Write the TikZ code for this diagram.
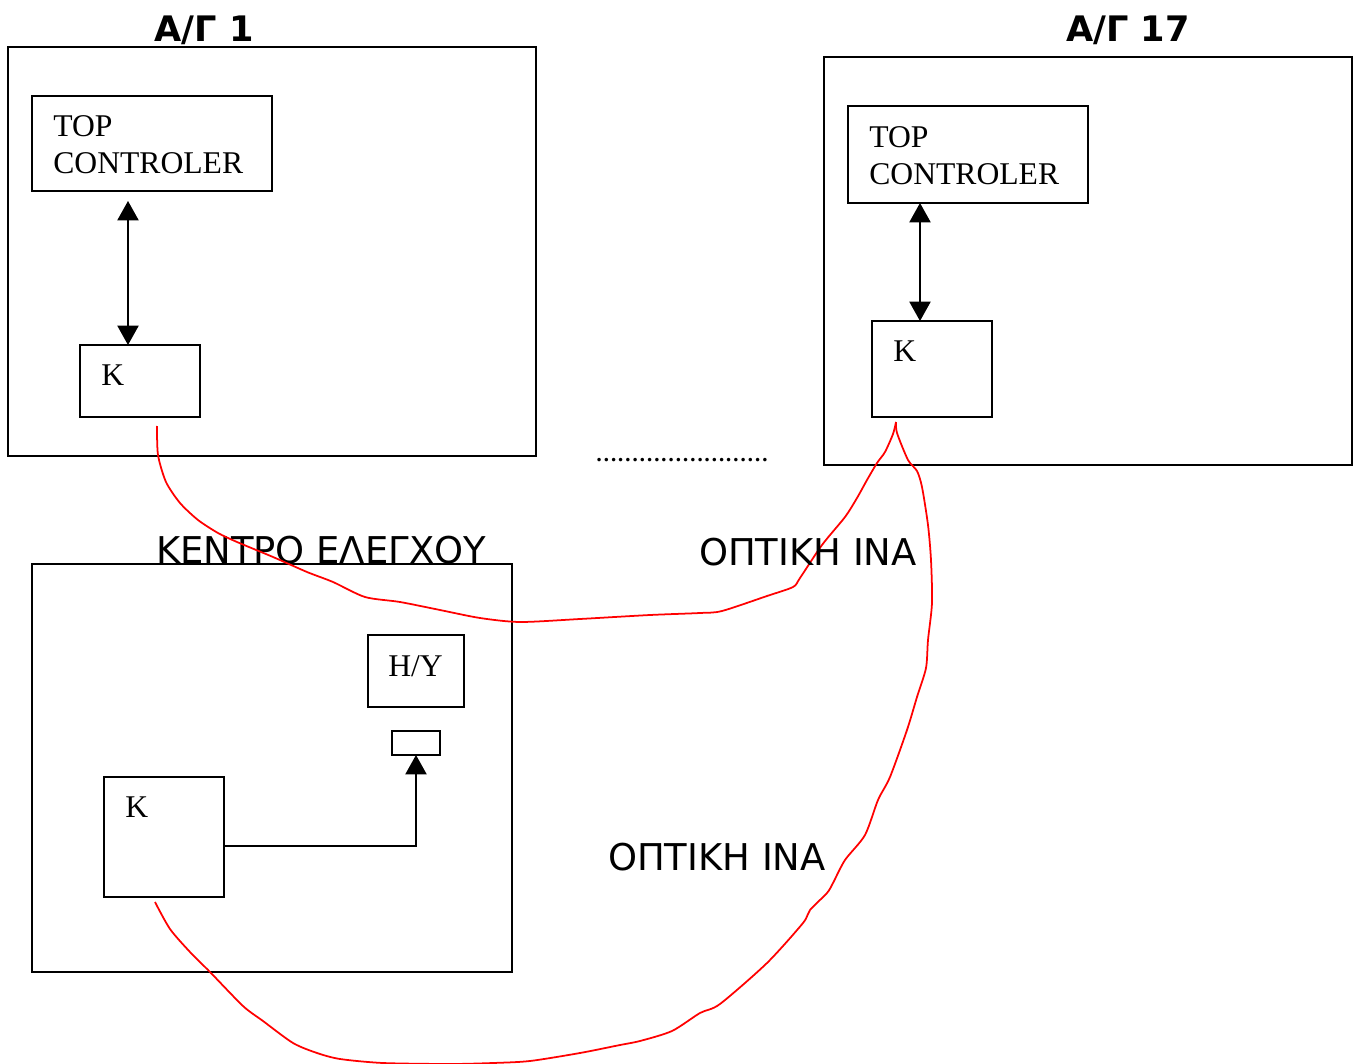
\documentclass[tikz,border=0pt]{standalone}
\usepackage{fontspec}
\setmainfont{Liberation Serif}
\newfontfamily\greekfont{DejaVu Sans}
\usetikzlibrary{positioning, arrows.meta, calc}
\definecolor{fibreRed}{RGB}{255, 0, 0}

\begin{document}
\begin{tikzpicture}[x=0.02cm, y=-0.02cm,
          box/.style={draw, line width=1pt, inner sep=0pt, outer sep=0pt},
          txt/.style={font=\fontsize{18}{21}\selectfont, inner sep=0pt, align=left},
          grk/.style={font=\greekfont\fontsize{21}{25}\selectfont, inner sep=0pt, anchor=base},
          dblarr/.style={{Triangle[length=11pt, width=12pt]}-{Triangle[length=11pt, width=12pt]}, line width=1pt},
          arr/.style={-{Triangle[length=11pt, width=12pt]}, line width=1pt},
          fibre/.style={fibreRed, line width=1pt}]
        \useasboundingbox (0,0) rectangle (1353,1064);
        % station 1
        \node[box, minimum width=10.56cm, minimum height=8.18cm] (agA) at (272,251.5) {};
        \node[box, minimum width=4.8cm, minimum height=1.9cm] (topA) at (152,143.5) {};
        \node[box, minimum width=2.4cm, minimum height=1.44cm] (kA) at (140,381) {};
        \node[txt, anchor=north west] (topAtxt) at (53,115) {TOP\\CONTROLER};
        \node[txt, anchor=base west] (kAtxt) at (101,385) {Κ};
        \node[grk, font=\greekfont\bfseries\fontsize{20}{24}\selectfont] (agAtitle) at (204,42) {Α/Γ 1};
        \draw[dblarr] (kA.north -| 128,0) -- ([yshift=-0.2cm]topA.south -| 128,0);
        % station 17
        \node[box, minimum width=10.56cm, minimum height=8.16cm] (agB) at (1088,261) {};
        \node[box, minimum width=4.8cm, minimum height=1.94cm] (topB) at (968,154.5) {};
        \node[box, minimum width=2.4cm, minimum height=1.92cm] (kB) at (932,369) {};
        \node[txt, anchor=north west] (topBtxt) at (869,126) {TOP\\CONTROLER};
        \node[txt, anchor=base west] (kBtxt) at (893,361) {Κ};
        \node[grk, font=\greekfont\bfseries\fontsize{20}{24}\selectfont] (agBtitle) at (1128,42) {Α/Γ 17};
        \draw[dblarr] (kB.north -| 920,0) -- (topB.south -| 920,0);
        % stations in between
        \node[font=\bfseries\fontsize{12.3}{14}\selectfont, inner sep=0pt, anchor=base] (dots) at (682,461) {……………………};
        % control centre
        \node[box, minimum width=9.6cm, minimum height=8.16cm] (ctrl) at (272,768) {};
        \node[grk] (ctrltitle) at (321,563) {ΚΕΝΤΡΟ ΕΛΕΓΧΟΥ};
        \node[box, minimum width=1.92cm, minimum height=1.44cm] (hy) at (416,671) {};
        \node[txt, anchor=base west] (hytxt) at (388,676) {Η/Υ};
        \node[box, minimum width=0.96cm, minimum height=0.48cm] (slot) at (416,743) {};
        \node[box, minimum width=2.4cm, minimum height=2.4cm] (kC) at (164,837) {};
        \node[txt, anchor=base west] (kCtxt) at (125,817) {Κ};
        \draw[arr] (kC.east |- 0,846) -| (slot.south);
        % optical fibre
        \coordinate (fA) at (157,426);
        \coordinate (fB) at (896,422);
        \coordinate (fC) at (155,902);
        \draw[fibre] plot[smooth, tension=0.45] coordinates {(fA) (158,455) (166,482) (180,503) (198,520) (218,533) (237,542) (273,557) (307,572) (333,582) (365,597) (400,602) (440,610) (480,618) (520,622) (580,619) (650,615) (700,613) (722,611) (767,596) (793,587) (800,578) (822,545) (845,517) (857,498) (867,480) (877,463) (885,452) (893,434) (fB)};
        \draw[fibre] plot[smooth, tension=0.45] coordinates {(fC) (170,929) (190,952) (210,972) (243,1006) (263,1021) (293,1043) (317,1053) (340,1059) (383,1063) (450,1064) (493,1063) (530,1061) (580,1053) (620,1045) (640,1041) (672,1031) (700,1013) (720,1004) (767,963) (803,923) (810,910) (827,893) (833,883) (845,860) (865,835) (878,800) (890,777) (907,730) (917,697) (926,668) (928,640) (932,603) (931,560) (928,525) (922,487) (917,471) (908,460) (897,433) (fB)};
        \node[grk] (fibreup) at (808,565) {ΟΠΤΙΚΗ ΙΝΑ};
        \node[grk] (fibrelow) at (717,870) {ΟΠΤΙΚΗ ΙΝΑ};
      \end{tikzpicture}
\end{document}
